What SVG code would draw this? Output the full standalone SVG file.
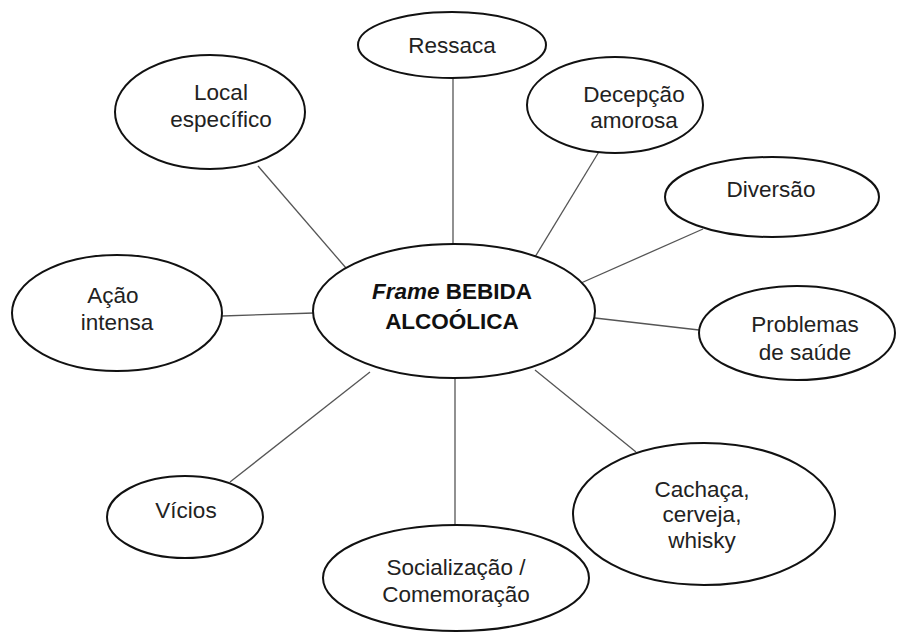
<svg xmlns="http://www.w3.org/2000/svg" width="902" height="634" viewBox="0 0 902 634">
<style>
.n ellipse{fill:#fff;stroke:#111;stroke-width:2}
.n text{font-family:"Liberation Sans",Arial,sans-serif;font-size:22.5px;fill:#222;text-anchor:middle}
#connectors line{stroke:#555;stroke-width:1.3}
.c text{font-weight:bold;font-size:22.5px;fill:#111}
</style>
<rect width="902" height="634" fill="#fff"/>
<g id="connectors">
<line x1="453" y1="78" x2="453" y2="244"/>
<line x1="258" y1="166" x2="346" y2="268"/>
<line x1="600" y1="150" x2="535" y2="257"/>
<line x1="703" y1="229" x2="572" y2="287"/>
<line x1="699" y1="330" x2="595" y2="318"/>
<line x1="636" y1="452" x2="535" y2="370"/>
<line x1="455" y1="378" x2="455" y2="525"/>
<line x1="230" y1="482" x2="370" y2="372"/>
<line x1="222" y1="316" x2="314" y2="313"/>
</g>
<g id="center" class="n c">
<ellipse cx="454" cy="311" rx="141" ry="67"/>
<text x="452" y="299"><tspan font-style="italic">Frame</tspan> BEBIDA</text>
<text x="452" y="329">ALCOÓLICA</text>
</g>
<g id="ressaca" class="n">
<ellipse cx="452" cy="45" rx="94" ry="33"/>
<text x="452" y="53">Ressaca</text>
</g>
<g id="local" class="n">
<ellipse cx="210" cy="112" rx="95" ry="57"/>
<text x="221" y="100">Local</text>
<text x="221" y="127">específico</text>
</g>
<g id="decepcao" class="n">
<ellipse cx="615" cy="105" rx="88" ry="48"/>
<text x="634" y="102">Decepção</text>
<text x="634" y="128">amorosa</text>
</g>
<g id="diversao" class="n">
<ellipse cx="772" cy="197" rx="107" ry="40"/>
<text x="771" y="197">Diversão</text>
</g>
<g id="problemas" class="n">
<ellipse cx="797" cy="333" rx="98" ry="47"/>
<text x="805" y="332">Problemas</text>
<text x="805" y="360">de saúde</text>
</g>
<g id="cachaca" class="n">
<ellipse cx="704" cy="514" rx="131" ry="71"/>
<text x="702" y="497">Cachaça,</text>
<text x="702" y="522">cerveja,</text>
<text x="702" y="548">whisky</text>
</g>
<g id="socializacao" class="n">
<ellipse cx="456" cy="578" rx="133" ry="53"/>
<text x="456" y="575">Socialização /</text>
<text x="456" y="602">Comemoração</text>
</g>
<g id="vicios" class="n">
<ellipse cx="185" cy="517" rx="78" ry="41"/>
<text x="186" y="518">Vícios</text>
</g>
<g id="acao" class="n">
<ellipse cx="117" cy="313" rx="105" ry="58"/>
<text x="113" y="303">Ação</text>
<text x="117" y="330">intensa</text>
</g>
</svg>
